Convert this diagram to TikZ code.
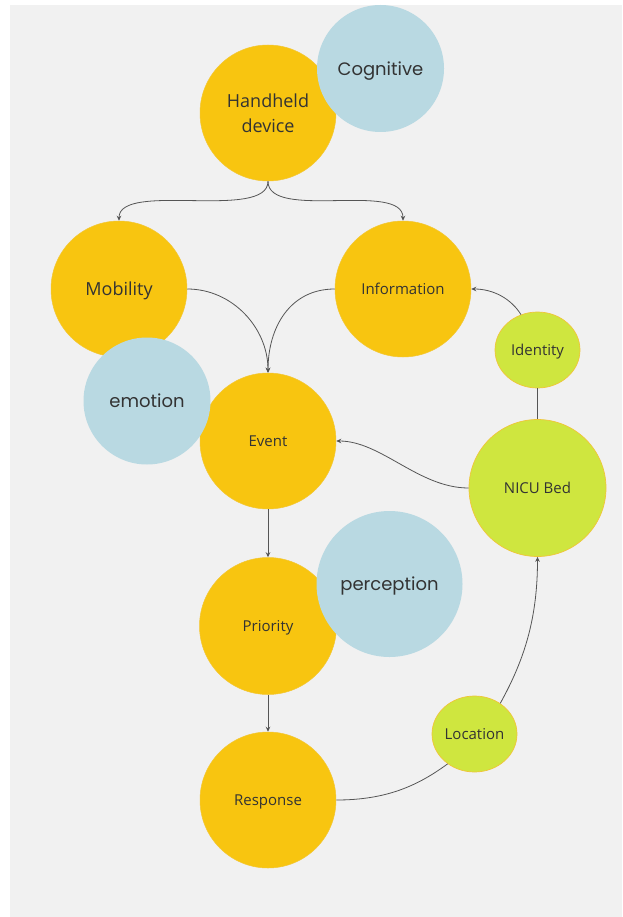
\documentclass[tikz,border=0pt]{standalone}
\usepackage{fontspec}
\setmainfont{Open Sans}
\newfontfamily\geofont{Poppins}
\usetikzlibrary{shapes.geometric,arrows.meta}

\definecolor{bgpaper}{HTML}{F1F1F1}
\definecolor{sun}{HTML}{F8C510}
\definecolor{sunedge}{HTML}{F3C634}
\definecolor{sky}{HTML}{B9D9E2}
\definecolor{lime}{HTML}{CFE63F}
\definecolor{limeedge}{HTML}{F0C53A}
\definecolor{ink}{HTML}{333333}
\definecolor{wire}{HTML}{555555}

\tikzset{
  bubble/.style={circle, inner sep=0pt, text=ink, align=center},
  gold/.style={bubble, fill=sun, draw=sunedge, line width=0.5pt, minimum size=#1},
  blue/.style={bubble, fill=sky, minimum size=#1, text depth=0pt,
    font=\geofont\fontsize{18}{22}\selectfont},
  green/.style={bubble, fill=lime, draw=limeedge, line width=0.7pt, minimum size=#1},
  greenoval/.style={ellipse, inner sep=0pt, text=ink, fill=lime, draw=limeedge, line width=0.7pt,
    minimum width=85pt, minimum height=76pt},
  big/.style={font=\fontsize{18}{25}\selectfont},
  bigline/.style={big, text depth=0pt},
  small/.style={font=\fontsize{15}{18}\selectfont, text depth=0pt},
  link/.style={draw=wire, line width=0.8pt},
  arrowlink/.style={link, -{Stealth[length=5pt,width=4.5pt]}},
}

\begin{document}
\begin{tikzpicture}[x=1pt, y=-1pt]
  % canvas
  \useasboundingbox (0,0) rectangle (622,917);
  \fill[white] (0,0) rectangle (622,917);
  \fill[bgpaper] (10,5) rectangle (622,917);

  % main chain
  \node[gold=136pt, big]     (hd)   at (268,113) {Handheld\\device};
  \node[gold=136pt, bigline] (mob)  at (119,289) {Mobility};
  \node[gold=136pt, small]   (inf)  at (403,289) {Information};
  \node[gold=136pt, small]   (ev)   at (268,441) {Event};
  \node[gold=137pt, small]   (pri)  at (268,626) {Priority};
  \node[gold=136pt, small]   (resp) at (268,800) {Response};

  % context nodes
  \node[greenoval, small]       (id)   at (537.5,350) {Identity};
  \node[green=137pt, small]     (nicu) at (537.5,488) {NICU Bed};
  \node[greenoval, small]       (loc)  at (474.5,734) {Location};

  % overlapping aspect circles
  \node[blue=127pt] (cog)  at (380.5,68.5) {Cognitive};
  \node[blue=127pt] (emo)  at (147,401)    {emotion};
  \node[blue=146pt] (perc) at (389.5,584)  {perception};

  % connectors
  \path[arrowlink] (hd.south) .. controls +(0,40) and +(0,-40) .. (mob.north);
  \path[arrowlink] (hd.south) .. controls +(0,40) and +(0,-40) .. (inf.north);
  \path[arrowlink] (mob.east) .. controls +(45,0) and +(0,-45) .. (ev.north);
  \path[arrowlink] (inf.west) .. controls +(-45,0) and +(0,-45) .. (ev.north);
  \path[arrowlink] (id.115) .. controls +(-10,-16) and +(22,0) .. (inf.east);
  \path[link] (id.south) -- (nicu.north);
  \path[arrowlink] (nicu.west) .. controls +(-50,0) and +(45,0) .. (ev.east);
  \path[arrowlink] (ev.south) -- (pri.north);
  \path[arrowlink] (pri.south) -- (resp.north);
  \path[link] (resp.east) .. controls +(50,0) and +(-30,22) .. (loc.228);
  \path[arrowlink] (loc.50) .. controls +(25,-45) and +(0,60) .. (nicu.south);
\end{tikzpicture}
\end{document}
